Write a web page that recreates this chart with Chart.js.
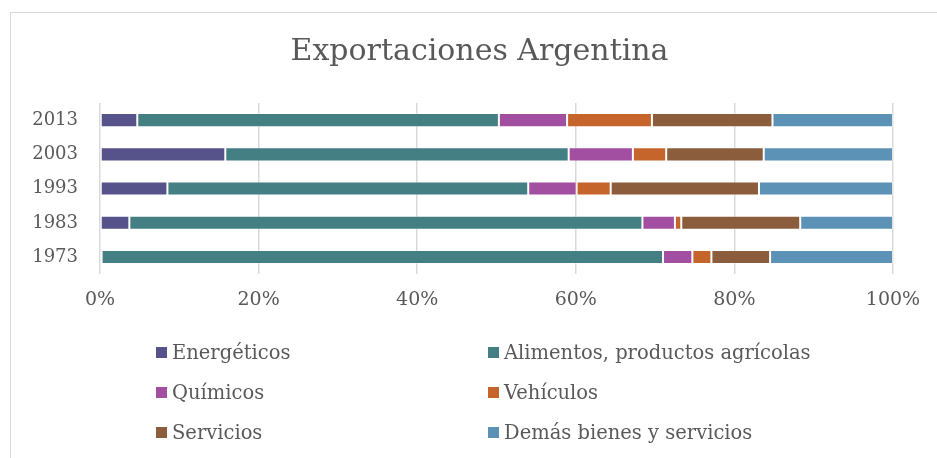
<!DOCTYPE html>
<html>
<head>
<meta charset="utf-8">
<script src="https://cdn.jsdelivr.net/npm/chart.js@4"></script>
<style>
  html, body { margin: 0; padding: 0; background: #ffffff; }
  #wrap { position: relative; width: 937px; height: 458px; overflow: hidden; background: #fff; }
  #frame { position: absolute; left: 10px; top: 12px; width: 1000px; height: 1000px;
           border-left: 1px solid #d9d9d9; border-top: 1px solid #d9d9d9; box-sizing: border-box; }
  canvas { position: absolute; left: 0; top: 0; }
  #legend { position: absolute; left: 0; top: 0; width: 937px; height: 458px; pointer-events: none;
            font-family: "DejaVu Serif", serif; font-size: 19.5px; color: #595959; }
  .item { position: absolute; white-space: nowrap; display: flex; align-items: center; height: 26px; }
  .box { width: 11px; height: 11px; margin-right: 5px; }
</style>
</head>
<body>
<div id="wrap">
  <div id="frame"></div>
  <canvas id="c" width="937" height="458"></canvas>
  <div id="legend"></div>
</div>
<script>
const categories = ['2013', '2003', '1993', '1983', '1973'];
const seriesNames = ['Energéticos', 'Alimentos, productos agrícolas', 'Químicos', 'Vehículos', 'Servicios', 'Demás bienes y servicios'];
const energeticos = [4.7, 15.8, 8.5, 3.7, 0.2];
const alimentos   = [45.6, 43.3, 45.5, 64.7, 70.8];
const quimicos    = [8.6, 8.1, 6.1, 4.1, 3.7];
const vehiculos   = [10.7, 4.2, 4.3, 0.8, 2.4];
const servicios   = [15.2, 12.3, 18.7, 15.0, 7.4];
const demas       = [15.2, 16.3, 16.9, 11.7, 15.5];
const xTicks = [0, 20, 40, 60, 80, 100];

const colors = ['#56538a', '#437f83', '#a24fa1', '#c5652c', '#8b5d3c', '#5b92b6'];
const values = [energeticos, alimentos, quimicos, vehiculos, servicios, demas];

const FONT = '"DejaVu Serif", serif';
const TXT = '#595959';

const datasets = seriesNames.map((n, i) => ({
  label: n,
  data: values[i],
  backgroundColor: colors[i],
  borderColor: 'rgba(255,255,255,0.35)',
  borderWidth: 1,
  borderSkipped: false,
  barPercentage: 0.41,
  categoryPercentage: 1.0,
  yAxisID: 'y'
}));

const chart = new Chart(document.getElementById('c'), {
  type: 'bar',
  data: { labels: categories, datasets },
  options: {
    indexAxis: 'y',
    responsive: false,
    animation: false,
    layout: { padding: { left: 22, right: 0, top: 0, bottom: 133 } },
    plugins: {
      legend: { display: false },
      tooltip: { enabled: false },
      title: {
        display: true,
        text: 'Exportaciones Argentina',
        color: TXT,
        font: { family: FONT, size: 30, weight: 'normal' },
        padding: { top: 34, bottom: 33 }
      }
    },
    scales: {
      x: {
        stacked: true,
        min: 0, max: 100,
        afterBuildTicks: (s) => { s.ticks = xTicks.map(v => ({ value: v })); },
        ticks: {
          callback: (v) => v + '%',
          color: TXT,
          font: { family: FONT, size: 19 },
          padding: 14,
          maxRotation: 0
        },
        grid: { color: '#d9d9d9', lineWidth: 1.5, drawTicks: false },
        border: { display: false }
      },
      y: {
        stacked: true,
        position: 'left',
        afterFit: (s) => { s.width = 78; },
        ticks: {
          color: TXT,
          font: { family: FONT, size: 18 },
          padding: 22
        },
        grid: { display: false, drawTicks: false },
        border: { display: false }
      },
      yRight: {
        type: 'category',
        position: 'right',
        afterFit: (s) => { s.width = 44; },
        ticks: { display: false },
        grid: { display: false, drawTicks: false },
        border: { display: false }
      }
    }
  }
});

// HTML legend built from chart datasets, two columns
const legend = document.getElementById('legend');
const colX = [156, 488];
const rowY = [352, 392, 432];
chart.data.datasets.forEach((ds, i) => {
  const el = document.createElement('div');
  el.className = 'item';
  el.style.left = colX[i % 2] + 'px';
  el.style.top = (rowY[Math.floor(i / 2)] - 13) + 'px';
  const b = document.createElement('span');
  b.className = 'box';
  b.style.background = ds.backgroundColor;
  const t = document.createElement('span');
  t.textContent = ds.label;
  el.appendChild(b); el.appendChild(t);
  legend.appendChild(el);
});
</script>
</body>
</html>
